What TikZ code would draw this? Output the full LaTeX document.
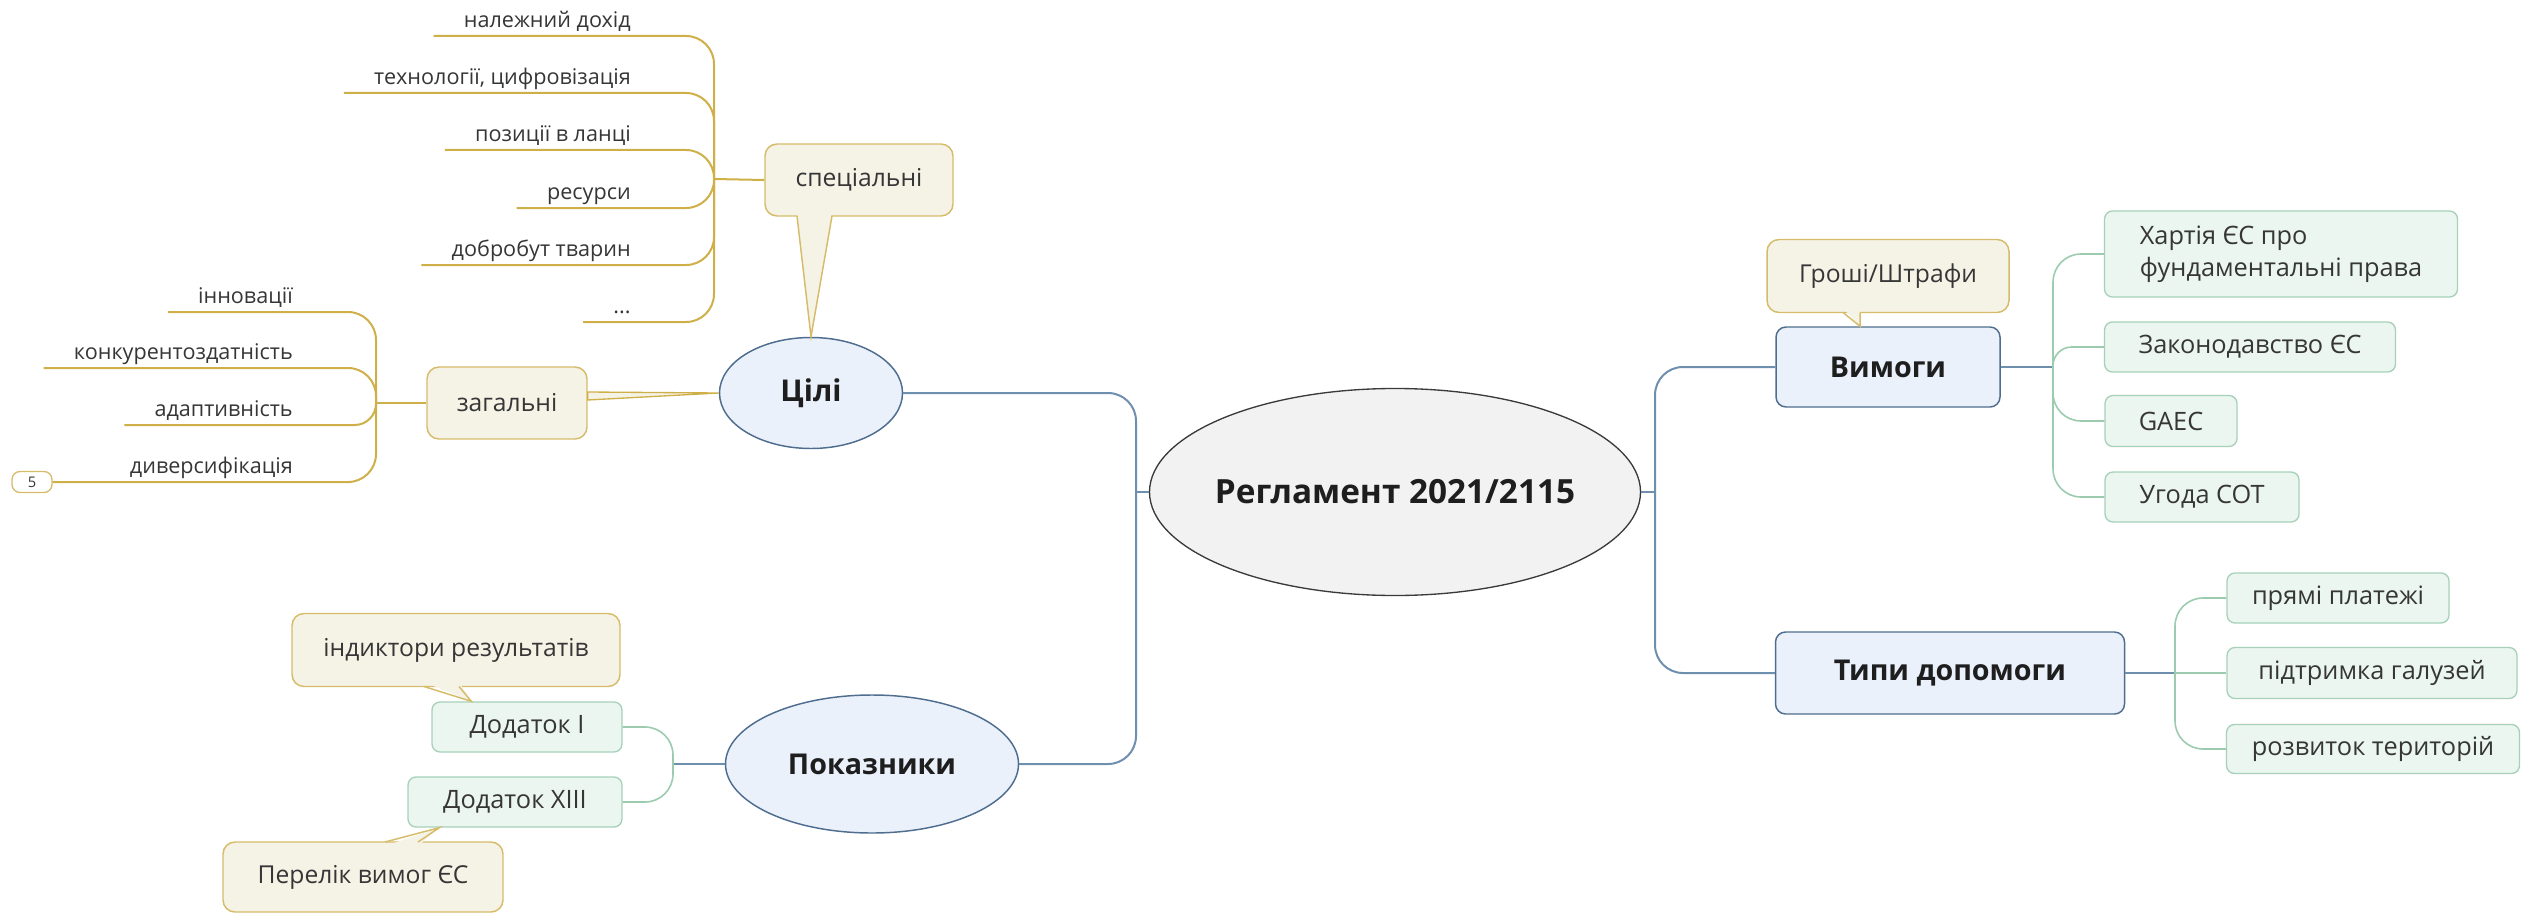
\documentclass[tikz,border=0pt]{standalone}
\usepackage{fontspec}
\setmainfont{Open Sans}
\usetikzlibrary{shapes.geometric,calc}
\definecolor{bluedark}{HTML}{4F6D8F}
\definecolor{bluefill}{HTML}{EAF1FB}
\definecolor{blueline}{HTML}{6F8FAF}
\definecolor{cenfill}{HTML}{F2F2F2}
\definecolor{cenbord}{HTML}{3A3A3A}
\definecolor{goldline}{HTML}{CFAF48}
\definecolor{goldb}{HTML}{D6BC6A}
\definecolor{beigef}{HTML}{F5F2E6}
\definecolor{greenb}{HTML}{A6D1B8}
\definecolor{greenf}{HTML}{ECF6F0}
\definecolor{greenline}{HTML}{9CCBB0}
\definecolor{txt}{HTML}{1E1E1E}
\definecolor{txtg}{HTML}{363636}
\begin{document}
\begin{tikzpicture}[x=0.75pt,y=-0.75pt,
  oval/.style={ellipse, draw=bluedark, fill=bluefill, line width=1.1pt, inner sep=0pt, text=txt, font=\bfseries\fontsize{22.5}{26}\selectfont},
  bluebox/.style={draw=bluedark, fill=bluefill, rounded corners=7.5pt, line width=1.1pt, inner sep=0pt, text=txt, font=\bfseries\fontsize{21.5}{25}\selectfont},
  beigebox/.style={draw=goldb, fill=beigef, rounded corners=9pt, line width=1.1pt, inner sep=0pt, text=txtg, font=\fontsize{18.5}{22}\selectfont},
  greenbox/.style={draw=greenb, fill=greenf, rounded corners=6pt, line width=1pt, inner sep=0pt, text=txtg, font=\fontsize{19}{24}\selectfont},
  leaf/.style={inner xsep=22.5pt, inner ysep=0pt, text depth=6pt, anchor=south east, text=txtg, font=\fontsize{16.2}{19}\selectfont},
  bline/.style={draw=blueline, line width=1.5pt},
  gline/.style={draw=goldline, line width=1.5pt},
  grline/.style={draw=greenline, line width=1.2pt},
  rc/.style={rounded corners=21pt}
]
\useasboundingbox (0,0) rectangle (2522,913);

% ---- nodes ----
\node[ellipse, draw=cenbord, fill=cenfill, line width=1pt, inner sep=0pt, minimum width=368.25pt, minimum height=155.25pt, text=txt, font=\bfseries\fontsize{25}{29}\selectfont] (central) at (1395,492) {\makebox[0pt]{Регламент 2021/2115}};
\node[oval, minimum width=137.25pt, minimum height=83.25pt] (tsili) at (811,393) {\makebox[0pt]{Цілі}};
\node[oval, minimum width=219.75pt, minimum height=103.5pt, font=\bfseries\fontsize{21.5}{25}\selectfont] (pokaz) at (872,764) {\makebox[0pt]{Показники}};
\node[bluebox, minimum width=168pt, minimum height=60pt] (vymogy) at (1888,367) {Вимоги};
\node[bluebox, minimum width=261.75pt, minimum height=61.5pt] (typy) at (1950,673) {Типи допомоги};

\node[beigebox, minimum width=181.5pt, minimum height=54.75pt] (groshi) at (1888,276) {Гроші/Штрафи};
\node[beigebox, minimum width=141pt, minimum height=54pt] (spec) at (859,180) {спеціальні};
\node[beigebox, minimum width=120pt, minimum height=54pt] (zag) at (507,403) {загальні};
\node[beigebox, minimum width=246pt, minimum height=54.75pt] (indyk) at (456,650) {індиктори результатів};
\node[beigebox, minimum width=210pt, minimum height=52.5pt] (perelik) at (363,877) {Перелік вимог ЄС};

\node[greenbox, minimum width=142.5pt, minimum height=37.5pt] (dod1) at (527,727) {Додаток I};
\node[greenbox, minimum width=160.5pt, minimum height=37.5pt] (dod13) at (515,802) {Додаток XIII};
\node[greenbox, minimum width=264.75pt, minimum height=64.5pt, align=left] (khart) at (2281,254) {Хартія ЄС про\\фундаментальні права};
\node[greenbox, minimum width=218.25pt, minimum height=37.5pt] (zakon) at (2250,347) {Законодавство ЄС};
\node[greenbox, minimum width=99pt, minimum height=38.25pt] (gaec) at (2171,421) {GAEC};
\node[greenbox, minimum width=145.5pt, minimum height=37.5pt] (ugoda) at (2202,497) {Угода СОТ};
\node[greenbox, minimum width=166.5pt, minimum height=37.5pt] (pryami) at (2338,598) {прямі платежі};
\node[greenbox, minimum width=217.5pt, minimum height=38.25pt] (pidtr) at (2372,673) {підтримка галузей};
\node[greenbox, minimum width=219.75pt, minimum height=36.75pt] (rozv) at (2373,749) {розвиток територій};

% leaves of "спеціальні"
\node[leaf] (s1) at (661,36) {належний дохід};
\node[leaf] (s2) at (661,93) {технології, цифровізація};
\node[leaf] (s3) at (661,150) {позиції в ланці};
\node[leaf] (s4) at (661,208) {ресурси};
\node[leaf] (s5) at (661,265) {добробут тварин};
\node[leaf] (s6) at (661,322) {...};
% leaves of "загальні"
\node[leaf] (z1) at (323,312) {інновації};
\node[leaf] (z2) at (323,368) {конкурентоздатність};
\node[leaf] (z3) at (323,425) {адаптивність};
\node[leaf] (z4) at (323,482) {диверсифікація};
\node[draw=goldb, fill=white, rounded corners=6pt, line width=1pt, inner sep=0pt, minimum width=30pt, minimum height=15.75pt, text=txtg, font=\fontsize{11}{13}\selectfont] (five) at (32,482) {5};

% ---- junction coordinates ----
\coordinate (cl) at (1136,492);
\coordinate (cr) at (1655,492);
\coordinate (vj) at (2053,367);
\coordinate (tj) at (2175,673);
\coordinate (pj) at (673,764);
\coordinate (sj) at (714,179);
\coordinate (zj) at (376,403);

% ---- main blue connectors ----
\draw[bline] (central.west) -- (cl);
\draw[bline, rc] (cl) |- (tsili.east);
\draw[bline, rc] (cl) |- (pokaz.east);
\draw[bline] (central.east) -- (cr);
\draw[bline, rc] (cr) |- (vymogy.west);
\draw[bline, rc] (cr) |- (typy.west);

% ---- green connectors ----
\draw[bline, line width=1.2pt] (vymogy.east) -- (vj);
\draw[grline, rc] (vj) |- (khart.west);
\draw[grline, rounded corners=14pt] (vj) |- (zakon.west);
\draw[grline, rc] (vj) |- (gaec.west);
\draw[grline, rc] (vj) |- (ugoda.west);
\draw[bline, line width=1.2pt] (typy.east) -- (tj);
\draw[grline, rc] (tj) |- (pryami.west);
\draw[grline] (tj) -- (pidtr.west);
\draw[grline, rc] (tj) |- (rozv.west);
\draw[bline, line width=1.2pt] (pokaz.west) -- (pj);
\draw[grline, rc] (pj) |- (dod1.east);
\draw[grline, rc] (pj) |- (dod13.east);

% ---- gold connectors ----
\draw[gline] (spec.west) -- (sj);
\draw[gline, rc] (sj) |- (s1.south west);
\draw[gline, rc] (sj) |- (s2.south west);
\draw[gline, rc] (sj) |- (s3.south west);
\draw[gline, rc] (sj) |- (s4.south west);
\draw[gline, rc] (sj) |- (s5.south west);
\draw[gline, rc] (sj) |- (s6.south west);
\draw[gline] (zag.west) -- (zj);
\draw[gline, rc] (zj) |- (z1.south west);
\draw[gline, rc] (zj) |- (z2.south west);
\draw[gline, rounded corners=16pt] (zj) |- (z3.south west);
\draw[gline, rc] (zj) |- (z4.south east) -- (five.east);

% ---- callout pointers ----
\fill[beigef] (797,211) -- (tsili.north) -- (832,211) -- cycle;
\draw[goldb, line width=1.1pt] (797,216) -- (tsili.north) -- (832,216);
\fill[beigef] (1843,308) -- ([xshift=-21pt]vymogy.north) -- (1860,308) -- cycle;
\draw[goldb, line width=1.1pt] (1843,312.5) -- ([xshift=-21pt]vymogy.north) -- (1860,312.5);
\fill[beigef] (424,682) -- ([xshift=30pt]dod1.north west) -- (459,682) -- cycle;
\draw[goldb, line width=1.1pt] (424,686.5) -- ([xshift=30pt]dod1.north west) -- (459,686.5);
\fill[beigef] (385,846) -- ([xshift=24pt]dod13.south west) -- (418,846) -- cycle;
\draw[goldb, line width=1.1pt] (385,842) -- ([xshift=24pt]dod13.south west) -- (418,842);
\filldraw[draw=goldline, fill=beigef, line width=1pt] ([yshift=8.25pt]zag.east) -- (tsili.west) -- ([yshift=2.25pt]zag.east) -- cycle;
\end{tikzpicture}
\end{document}
